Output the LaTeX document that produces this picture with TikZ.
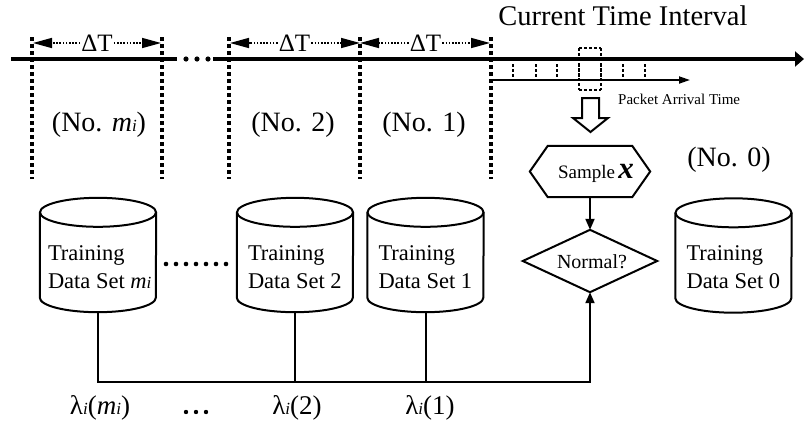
\documentclass[tikz,border=0pt]{standalone}
\usepackage{fontspec}
\setmainfont{Liberation Serif}
\usetikzlibrary{arrows.meta}
\newcommand\fs[2]{\fontsize{#1}{#2}\selectfont}
\newcommand\subi{{\fs{17}{17}\itshape i}}
\tikzset{
  vdot/.style={line width=3.5pt, dash pattern=on 3.5pt off 3.5pt},
  tdot/.style={line width=2pt, dash pattern=on 2.5pt off 2.5pt},
  dtarrow/.style={line width=1.6pt, dash pattern=on 1.6pt off 1.6pt, -{Triangle[length=19pt,width=10pt]}},
  dtlabel/.style={font=\fs{25}{27}, inner sep=1pt},
  nolabel/.style={font=\fs{28}{30}},
  cylbox/.style={minimum width=116pt, minimum height=114pt, inner sep=0pt},
  cyl/.style={line width=2pt},
  cyltext/.style={anchor=west, align=left, font=\fs{22.5}{28}, inner sep=0pt},
  conn/.style={line width=2pt},
  tip/.style={-{Triangle[length=11pt,width=9pt]}},
  lam/.style={font=\fs{27}{29}},
}
\newcommand\cylinder[1]{%
  \draw[cyl] ([yshift=-14.5pt]#1.north west) -- ([yshift=14.5pt]#1.south west)
     arc[start angle=180,end angle=360,x radius=58pt,y radius=14.5pt]
     -- ([yshift=-14.5pt]#1.north east);
  \draw[cyl] ([yshift=-14.5pt]#1.north) ellipse[x radius=58pt,y radius=14.5pt];
}
\begin{document}
\begin{tikzpicture}[x=1pt,y=-1pt]
\useasboundingbox (0,0) rectangle (804,429);

% title
\node[font=\fs{28.5}{30}] (title) at (623,16) {Current Time Interval};

% main timeline
\draw[line width=4.5pt] (11,59) -- (177,59);
\foreach \x in {186,197,208} \fill (\x,59) circle[radius=2.6pt];
\draw[line width=4.5pt, -{Triangle[length=9pt,width=15pt]}] (213,59) -- (804,59);

% vertical dotted interval borders
\foreach \x in {32,162,229,360,491} \draw[vdot] (\x,37) -- (\x,179);

% Delta T arrows
\node[dtlabel] (dt1) at (97,43) {ΔT};
\node[dtlabel] (dt2) at (294.5,43) {ΔT};
\node[dtlabel] (dt3) at (425.5,43) {ΔT};
\coordinate (a1) at (33,43); \coordinate (b1) at (161,43);
\coordinate (a2) at (230,43); \coordinate (b2) at (360,43);
\coordinate (a3) at (360,43); \coordinate (b3) at (490,43);
\draw[dtarrow] (dt1.west) -- (a1);
\draw[dtarrow] (dt1.east) -- (b1);
\draw[dtarrow] (dt2.west) -- (a2);
\draw[dtarrow] (dt2.east) -- (b2);
\draw[dtarrow] (dt3.west) -- (a3);
\draw[dtarrow] (dt3.east) -- (b3);

% packet arrival ticks
\foreach \x in {513,536,557,579,601,623,645} \draw[tdot] (\x,64) -- (\x,77);
\draw[tdot] (579,48) -- (601,48);
\draw[tdot] (579,90) -- (601,90);
\draw[tdot] (579,48) -- (579,90);
\draw[tdot] (601,48) -- (601,90);
\coordinate (pa0) at (491,80);
\coordinate (pa1) at (690,80);
\draw[line width=1.8pt, -{Triangle[length=11pt,width=7pt]}] (pa0) -- (pa1);
\node[font=\fs{15}{17}, anchor=west, inner sep=0pt] (pat) at (618,99) {Packet Arrival Time};

% hollow arrow
\draw[line width=2pt, line join=miter] (582,98) -- (599,98) -- (599,118) -- (608,118) -- (590.5,132) -- (573,118) -- (582,118) -- cycle;

% interval labels
\node[nolabel] (nom) at (99,125) {(No. \textit{m}\subi)};
\node[nolabel] (no2) at (293,125) {(No. 2)};
\node[nolabel] (no1) at (424,125) {(No. 1)};
\node[nolabel] (no0) at (729,160) {(No. 0)};

% hexagon
\node[minimum width=120pt, minimum height=51pt, inner sep=0pt] (hex) at (590,171.5) {};
\draw[line width=2pt] (hex.west) -- ([xshift=18pt]hex.north west) -- ([xshift=-18pt]hex.north east)
  -- (hex.east) -- ([xshift=-18pt]hex.south east) -- ([xshift=18pt]hex.south west) -- cycle;
\node[inner sep=0pt] (hext) at (596,173) {\fs{19}{22}Sample\,\fs{31}{31}\bfseries\itshape x};

% diamond
\node[minimum width=134pt, minimum height=62pt, inner sep=0pt] (diam) at (590,261) {};
\draw[line width=2pt] (diam.north) -- (diam.east) -- (diam.south) -- (diam.west) -- cycle;
\node[font=\fs{20}{22}, inner sep=0pt] (diamt) at (592,262) {Normal?};
\draw[conn,tip] (hex.south) -- (diam.north);

% cylinders
\node[cylbox] (cm) at (98,255) {};
\node[cylbox] (c2) at (295,255) {};
\node[cylbox] (c1) at (425.5,255) {};
\node[cylbox] (c0) at (733.5,255.5) {};
\cylinder{cm}
\cylinder{c2}
\cylinder{c1}
\cylinder{c0}
\node[cyltext] (cmt) at ([xshift=8pt,yshift=-12pt]cm.west) {Training\\Data Set \textit{m}\subi};
\node[cyltext] (c2t) at ([xshift=11pt,yshift=-12pt]c2.west) {Training\\Data Set 2};
\node[cyltext] (c1t) at ([xshift=11pt,yshift=-12pt]c1.west) {Training\\Data Set 1};
\node[cyltext] (c0t) at ([xshift=11pt,yshift=-12pt]c0.west) {Training\\Data Set 0};
\foreach \i in {0,...,6} \fill (166+\i*10,264) circle[radius=2.3pt];

% bus
\coordinate (bus) at (0,382);
\draw[conn] (c2.south) -- (c2.south |- bus);
\draw[conn] (c1.south) -- (c1.south |- bus);
\draw[conn,tip] (cm.south) -- (cm.south |- bus) -| (diam.south);

% lambda labels
\node[lam] (lm) at (100,408) {λ\subi(\textit{m}\subi)};
\node[lam] (l2) at (297,408) {λ\subi(2)};
\node[lam] (l1) at (430,408) {λ\subi(1)};
\foreach \x in {186,196,206} \fill (\x,412) circle[radius=2.2pt];
\end{tikzpicture}
\end{document}
